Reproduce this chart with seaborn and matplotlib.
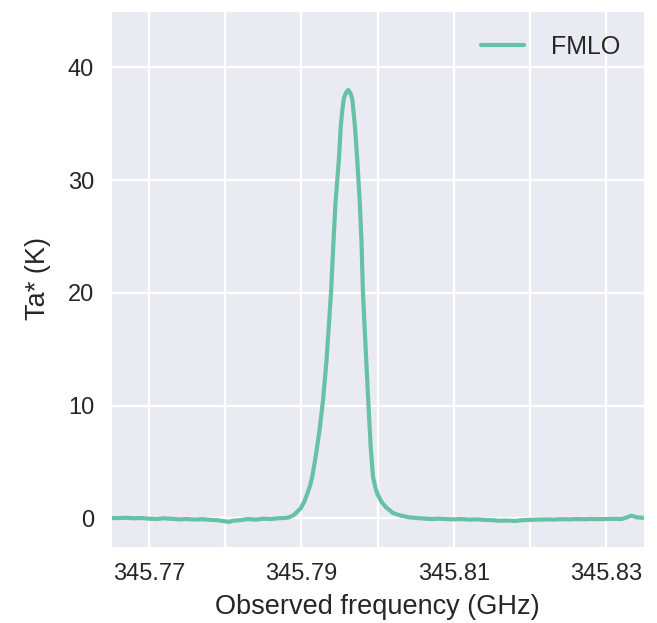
import matplotlib
matplotlib.use("Agg")
import matplotlib.pyplot as plt
import seaborn as sns
import pandas as pd

# Observed frequency channels (GHz) and antenna temperature Ta* (K)
freq_ghz = [
    345.7645, 345.7650, 345.7660, 345.7670, 345.7680, 345.7690, 345.7700,
    345.7710, 345.7720, 345.7730, 345.7740, 345.7750, 345.7760, 345.7770,
    345.7780, 345.7790, 345.7800, 345.7805, 345.7810, 345.7820, 345.7830,
    345.7840, 345.7850, 345.7860, 345.7870, 345.7880,
    345.78839, 345.78900, 345.78992, 345.79040, 345.79079, 345.79115,
    345.79144, 345.79189, 345.79239, 345.79285, 345.79331, 345.79390,
    345.79422, 345.79449, 345.79472, 345.79495, 345.79517, 345.79540,
    345.79560, 345.79590, 345.79617, 345.79645, 345.79669, 345.79705,
    345.79735, 345.79766, 345.79790, 345.79809, 345.79845, 345.79882,
    345.79911, 345.79941, 345.79970, 345.79997, 345.80050, 345.80111,
    345.80200, 345.80282, 345.80413,
    345.8050, 345.8060, 345.8070, 345.8080, 345.8090, 345.8100, 345.8110,
    345.8120, 345.8130, 345.8140, 345.8150, 345.8160, 345.8170, 345.8180,
    345.8190, 345.8200, 345.8210, 345.8220, 345.8230, 345.8240, 345.8250,
    345.8260, 345.8270, 345.8280, 345.8290, 345.8300, 345.8310, 345.8320,
    345.8325, 345.8333, 345.8340, 345.8350, 345.8360,
]
ta_k = [
    0.05, 0.05, 0.03, 0.06, 0.02, 0.04, -0.02,
    -0.05, 0.02, -0.03, -0.08, -0.05, -0.10, -0.06,
    -0.12, -0.15, -0.25, -0.30, -0.20, -0.15, -0.05,
    -0.10, -0.02, -0.05, 0.02, 0.05,
    0.10, 0.30, 0.90, 1.50, 2.20, 2.90,
    3.70, 5.50, 7.80, 10.5, 14.0, 20.0,
    24.5, 28.0, 30.0, 32.0, 34.7, 36.3,
    37.3, 37.8, 38.0, 37.7, 37.2, 34.7,
    31.7, 28.2, 24.5, 20.0, 15.0, 10.0,
    6.30, 3.70, 2.80, 2.20, 1.50, 1.00,
    0.50, 0.30, 0.10,
    0.05, 0.00, -0.05, -0.02, -0.05, -0.08, -0.05,
    -0.10, -0.08, -0.12, -0.15, -0.20, -0.18, -0.22,
    -0.15, -0.12, -0.10, -0.08, -0.10, -0.06, -0.08,
    -0.05, -0.07, -0.04, -0.06, -0.05, -0.03, -0.05,
    0.05, 0.25, 0.10, 0.05, 0.05,
]
series_name = ["FMLO"] * len(freq_ghz)

x_ticks = [345.77, 345.78, 345.79, 345.80, 345.81, 345.82, 345.83]
x_tick_labels = ["345.77", "", "345.79", "", "345.81", "", "345.83"]
y_ticks = [0, 10, 20, 30, 40]

df = pd.DataFrame({"freq": freq_ghz, "ta": ta_k, "receiver": series_name})

sns.set_style("darkgrid", {"grid.linewidth": 1.6})
plt.rcParams["font.family"] = ["Liberation Sans", "DejaVu Sans"]
text_color = "#262626"

fig = plt.figure(figsize=(6.57, 6.23), dpi=100)
ax = fig.add_axes([0.1685, 0.1225, 0.8122, 0.8598])

sns.lineplot(data=df, x="freq", y="ta", hue="receiver",
             palette=["#66c2a5"], linewidth=3.0, ax=ax, sort=False)

ax.set_xlim(345.765, 345.835)
ax.set_ylim(-2.5, 45)
ax.set_xticks(x_ticks)
ax.set_xticklabels(x_tick_labels)
ax.set_yticks(y_ticks)
ax.grid(True, color="white", linewidth=1.6)
ax.tick_params(axis="both", labelsize=17, colors=text_color, length=0, pad=12)
ax.set_xlabel("Observed frequency (GHz)", fontsize=19.5, color=text_color, labelpad=6)
ax.set_ylabel("Ta* (K)", fontsize=19.5, color=text_color, labelpad=12)

leg = ax.legend(loc="upper right", frameon=False, fontsize=18,
                handlelength=1.7, handletextpad=1.1, borderaxespad=0.55,
                labelcolor=text_color)
leg.set_title(None)

fig.savefig("out.png", dpi=100)
